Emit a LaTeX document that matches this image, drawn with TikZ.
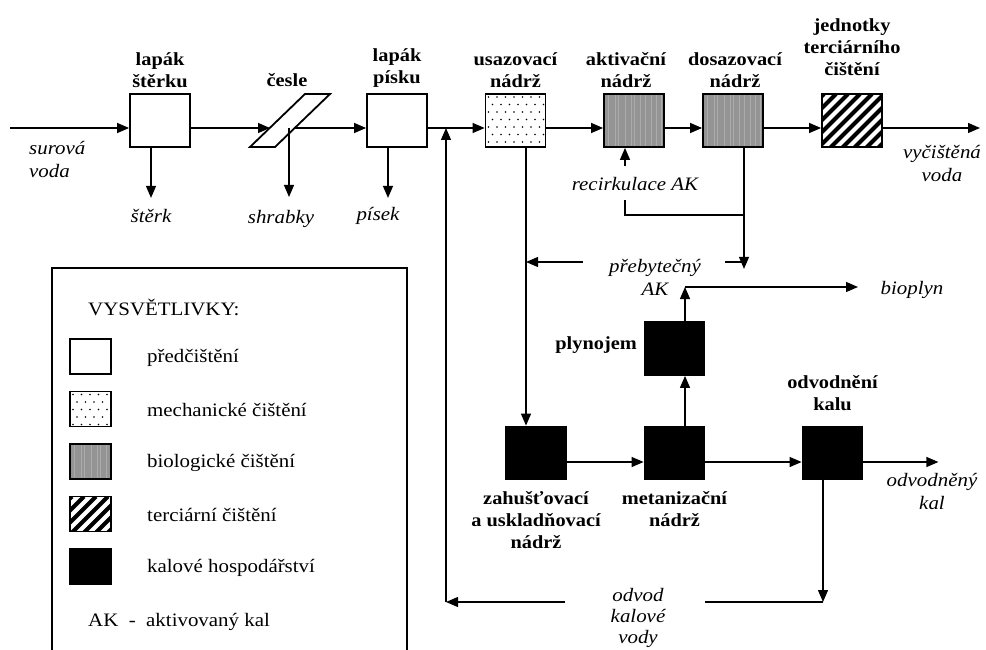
\documentclass[tikz,border=0pt]{standalone}
\usepackage{fontspec}
\setmainfont[FakeStretch=1.1]{Liberation Serif}
\usetikzlibrary{arrows.meta,calc}

\tikzset{
  box/.style={draw,line width=1.8pt,minimum width=60pt,minimum height=53pt,inner sep=0pt},
  keybox/.style={draw,line width=1.5pt,minimum width=41pt,minimum height=35pt,inner sep=0pt},
  predfill/.style={fill=white},
  mechfill/.style={fill=white,path picture={
      \foreach \r in {0,...,7} \foreach \c in {0,...,7}
        \fill[black] ($(path picture bounding box.north west)+({\c*8.5+3+mod(\r,2)*4},{\r*7.5+3})$) circle (0.8pt);}},
  biofill/.style={fill=black!42,path picture={
      \foreach \s in {4,11,14,21,27,30,36,41,47,52,57}
        \draw[black!33,line width=0.9pt] ($(path picture bounding box.north west)+(\s,0)$) -- ++(0,60);}},
  tercfill/.style={fill=white,path picture={
      \foreach \k in {-72,-60,...,72}
        \draw[black,line width=4pt] ($(path picture bounding box.north west)+(\k,62)$) -- ++(62,-62);}},
  kalfill/.style={fill=black},
  boxlab/.style={font=\bfseries\fontsize{18.5}{22}\selectfont,align=center,inner sep=0pt},
  flowtxt/.style={font=\itshape\fontsize{19}{23}\selectfont,align=center,inner sep=0pt},
  keytxt/.style={font=\fontsize{19}{22}\selectfont,anchor=west,inner sep=0pt},
  pipe/.style={line width=1.3pt},
  flow/.style={pipe,-{Triangle[length=12pt,width=10pt]}}
}

\begin{document}
\begin{tikzpicture}[x=1pt,y=-1pt]
\useasboundingbox (0,0) rectangle (986,650);
\coordinate (axis) at (0,128);

% legenda
\draw[line width=1.5pt] (52,660) -- (52,268) -- (407,268) -- (407,660);
\node[keytxt] (keyhead) at (88,307) {VYSVĚTLIVKY:};
\foreach \f/\t [count=\i] in {predfill/předčištění,mechfill/mechanické čištění,biofill/biologické čištění,tercfill/terciární čištění,kalfill/kalové hospodářství} {
  \node[keybox,\f] (key\i) at (90.5,{304+52.5*\i}) {};
  \node[keytxt] (keylab\i) at (147,{305+52.5*\i}) {\t};
}
\node[keytxt] (akkey) at (88,622) {AK \ - \ aktivovaný kal};

% linka cisteni vody
\node[box,predfill] (lst) at (160,120.5) {};
\node[box,predfill] (lpi) at (397,120.5) {};
\node[box,mechfill] (usaz) at (515.5,120.5) {};
\node[box,biofill] (akt) at (634,120.5) {};
\node[box,biofill] (dos) at (733,120.5) {};
\node[box,tercfill] (terc) at (852,120.5) {};

\node[boxlab,anchor=south] (lstlab) at ([yshift=5pt]lst.north) {lapák\\štěrku};
\node[boxlab] (ceslab) at (287,80) {česle};
\node[boxlab,anchor=south] (lpilab) at ([yshift=5pt]lpi.north) {lapák\\písku};
\node[boxlab,anchor=south] (usazlab) at ([yshift=5pt]usaz.north) {usazovací\\nádrž};
\node[boxlab,anchor=south] (aktlab) at ([xshift=-8pt,yshift=5pt]akt.north) {aktivační\\nádrž};
\node[boxlab,anchor=south] (doslab) at ([xshift=2pt,yshift=5pt]dos.north) {dosazovací\\nádrž};
\node[boxlab,anchor=south] (terclab) at ([yshift=17pt]terc.north) {jednotky\\terciárního\\čištění};

% cesle
\coordinate (cesleL) at (270,128);
\coordinate (cesleR) at (295,128);
\coordinate (cesleC) at (289,128);
\draw[line width=1.8pt,fill=white] (250,147) -- (275,147) -- (330,94) -- (305,94) -- cycle;

\coordinate (src) at (10,128);
\coordinate (jun) at (446,128);
\coordinate (out) at (980,128);
\draw[flow] (src) -- (lst.west |- axis);
\draw[flow] (lst.east |- axis) -- (cesleL);
\draw[flow] (cesleR) -- (lpi.west |- axis);
\draw[flow] (lpi.east |- axis) -- (usaz.west |- axis);
\draw[flow] (usaz.east |- axis) -- (akt.west |- axis);
\draw[flow] (akt.east |- axis) -- (dos.west |- axis);
\draw[flow] (dos.east |- axis) -- (terc.west |- axis);
\draw[flow] (terc.east |- axis) -- (out);

\draw[flow] ([xshift=-9pt]lst.south) -- ++(0,50);
\draw[flow] (cesleC) -- ++(0,69);
\draw[flow] ([xshift=-9pt]lpi.south) -- ++(0,50);

\node[flowtxt,align=left,anchor=north west] (raw) at (29,141) {surová\\voda};
\node[flowtxt] (sterk) at (151,216) {štěrk};
\node[flowtxt] (shrab) at (281,219) {shrabky};
\node[flowtxt] (pisek) at (378,216) {písek};
\node[flowtxt] (clean) at (942,163) {vyčištěná\\voda};

% recirkulace a prebytecny kal
\coordinate (recR) at (744,215);
\coordinate (recL) at (625,215);
\coordinate (recU) at (625,200);
\draw[pipe] (recR) -- (recL) -- (recU);
\draw[flow] ([xshift=-9pt,yshift=-18pt]akt.south) -- ([xshift=-9pt]akt.south);
\node[flowtxt] (recirk) at (635,184) {recirkulace AK};

\draw[flow] ([xshift=11pt]dos.south) -- ++(0,121);
\coordinate (excR) at (744,262);
\coordinate (excA) at (725,262);
\coordinate (excB) at (583,262);
\coordinate (usazdown) at ([xshift=10.5pt]usaz.south);
\draw[pipe] (excR) -- (excA);
\draw[flow] (excB) -- (excB -| usazdown);
\node[flowtxt] (excess) at (655,277) {přebytečný\\AK};

% kalove hospodarstvi
\node[box,kalfill] (plyn) at (674.5,348.5) {};
\node[box,kalfill] (zah) at (536,453) {};
\node[box,kalfill] (met) at (674.5,453) {};
\node[box,kalfill] (odv) at (832.5,453) {};

\node[boxlab,anchor=base east] (plynlab) at (637,349) {plynojem};
\node[boxlab,anchor=north] (zahlab) at ([yshift=-11pt]zah.south) {zahušťovací\\a uskladňovací\\nádrž};
\node[boxlab,anchor=north] (metlab) at ([yshift=-11pt]met.south) {metanizační\\nádrž};
\node[boxlab,anchor=south] (odvlab) at ([yshift=15pt]odv.north) {odvodnění\\kalu};

\draw[flow] (usazdown) -- (usazdown |- zah.north);
\draw[flow] ([yshift=-9pt]zah.east) -- ([yshift=-9pt]met.west);
\draw[flow] ([yshift=-9pt]met.east) -- ([yshift=-9pt]odv.west);
\draw[flow] ([xshift=10.5pt]met.north) -- ([xshift=10.5pt]plyn.south);

\coordinate (gasC) at (685,287);
\coordinate (gasE) at (858,287);
\draw[flow] ([xshift=10.5pt]plyn.north) -- (gasC);
\draw[flow] (gasC) -- (gasE);
\node[flowtxt] (biogas) at (912,290) {bioplyn};

\draw[flow] ([yshift=-9pt]odv.east) -- ++(75,0);
\node[flowtxt] (dewat) at (932,491) {odvodněný\\kal};

% odvod kalove vody zpet na pritok
\coordinate (retR) at (823,602);
\coordinate (retA) at (705,602);
\coordinate (retB) at (565,602);
\coordinate (retL) at (446,602);
\draw[flow] ([xshift=-9.5pt]odv.south) -- (retR);
\draw[pipe] (retR) -- (retA);
\draw[flow] (retB) -- (retL);
\draw[flow] (retL) -- (jun);
\node[flowtxt,font=\itshape\fontsize{19}{21}\selectfont] (waterret) at (638,618) {odvod\\kalové\\vody};
\end{tikzpicture}
\end{document}
